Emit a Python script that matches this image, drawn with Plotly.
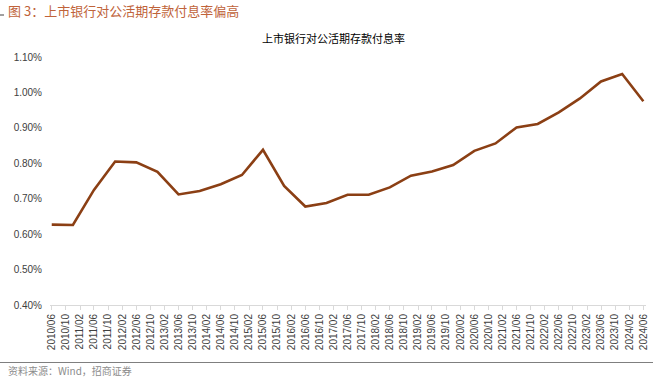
import plotly.graph_objects as go
import pandas as pd

# Semi-annual data points (June / December)
dates = pd.date_range("2010-06-01", "2024-06-01", freq="6MS").strftime("%Y-%m-%d").tolist()
rates = [0.627, 0.626, 0.725, 0.805, 0.8025, 0.776, 0.712, 0.722, 0.741, 0.767,
         0.838, 0.736, 0.678, 0.688, 0.711, 0.711, 0.732, 0.765, 0.777, 0.795,
         0.835, 0.856, 0.901, 0.911, 0.944, 0.983, 1.031, 1.052, 0.975]

tick_dates = pd.date_range("2010-06-01", "2024-06-01", freq="4MS")
tick_vals = tick_dates.strftime("%Y-%m-%d").tolist()
tick_text = tick_dates.strftime("%Y/%m").tolist()

y_ticks = [0.4, 0.5, 0.6, 0.7, 0.8, 0.9, 1.0, 1.1]
y_text = ["0.40%", "0.50%", "0.60%", "0.70%", "0.80%", "0.90%", "1.00%", "1.10%"]

W, H = 653, 379
ML, MR, MT, MB = 50, 7, 57, 74

fig = go.Figure()
fig.add_trace(go.Scatter(x=dates, y=rates, mode="lines",
                         line=dict(color="#8B3F14", width=2.6),
                         hoverinfo="skip", showlegend=False))

font_cjk = "Noto Sans CJK SC"

fig.update_layout(
    width=W, height=H,
    margin=dict(l=ML, r=MR, t=MT, b=MB, autoexpand=False),
    paper_bgcolor="white", plot_bgcolor="white",
    font=dict(family="Liberation Sans, Arial", color="#404040", size=10),
    xaxis=dict(
        type="date", automargin=False,
        range=["2010-05-17", "2024-06-24"],
        tickmode="array", tickvals=tick_vals, ticktext=tick_text,
        tickangle=-90, tickfont=dict(size=10, color="#404040"),
        showgrid=False, zeroline=False,
        showline=True, linecolor="#D9D9D9", linewidth=1,
        ticks="outside", ticklen=4, tickcolor="#D9D9D9",
    ),
    yaxis=dict(
        automargin=False,
        range=[0.4, 1.1],
        tickmode="array", tickvals=y_ticks, ticktext=y_text,
        tickfont=dict(size=10, color="#404040"),
        showgrid=False, zeroline=False, showline=False,
        ticklabelstandoff=7,
    ),
)

pw = W - ML - MR
ph = H - MT - MB

def px(x):
    return (x - ML) / pw

def py(y):
    return (H - MB - y) / ph

fig.add_annotation(text="图 3：上市银行对公活期存款付息率偏高", x=px(6), y=py(11),
                   xref="paper", yref="paper", xanchor="left", yanchor="middle",
                   showarrow=False, font=dict(family=font_cjk, size=13, color="#C0633A"))
fig.add_annotation(text="上市银行对公活期存款付息率", x=px(333), y=py(38),
                   xref="paper", yref="paper", xanchor="center", yanchor="middle",
                   showarrow=False, font=dict(family=font_cjk, size=11, color="#000000"))
fig.add_annotation(text="资料来源：Wind，招商证券", x=px(6), y=py(370.5),
                   xref="paper", yref="paper", xanchor="left", yanchor="middle",
                   showarrow=False, font=dict(family=font_cjk, size=10, color="#8C8C8C"))

fig.add_shape(type="line", xref="paper", yref="paper",
              x0=px(0), x1=px(W), y0=py(362.5), y1=py(362.5),
              line=dict(color="#7F7F7F", width=1))
fig.add_shape(type="line", xref="paper", yref="paper",
              x0=px(0), x1=px(4), y0=py(15), y1=py(15),
              line=dict(color="#404040", width=1))

fig.write_html("out.html",
               config={"displayModeBar": False},
               post_script="document.body.style.margin='0';document.body.style.overflow='hidden';")
